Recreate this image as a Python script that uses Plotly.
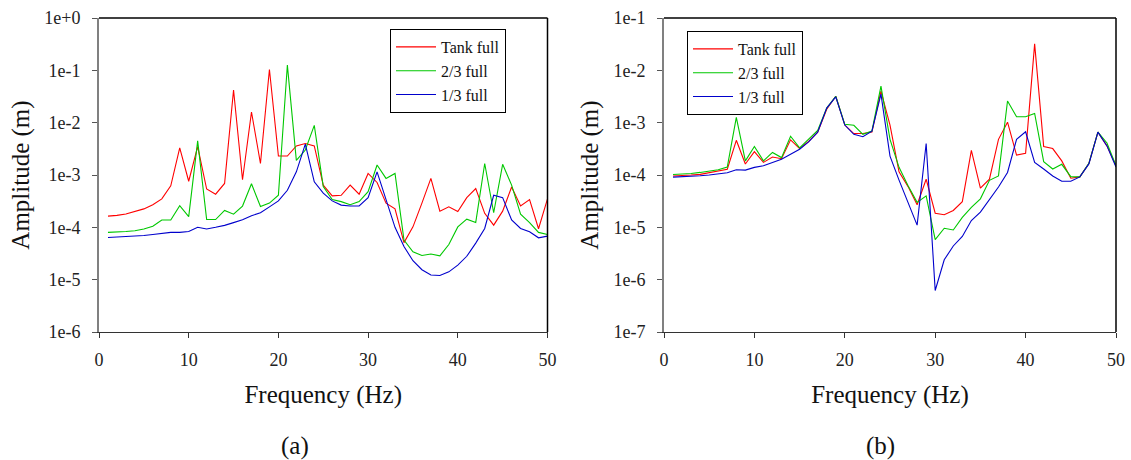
import plotly.graph_objects as go

freq = list(range(1, 51))

# Panel (a)
a_full = [1.64e-4, 1.69e-4, 1.8e-4, 2.0e-4, 2.25e-4, 2.7e-4, 3.5e-4, 6.2e-4, 3.3e-3, 7.6e-4,
          3.5e-3, 5.4e-4, 4.3e-4, 6.9e-4, 4.2e-2, 8.1e-4, 1.6e-2, 1.66e-3, 1.04e-1, 2.3e-3,
          2.3e-3, 3.6e-3, 4.0e-3, 3.6e-3, 6.4e-4, 4.0e-4, 4.1e-4, 6.4e-4, 4.3e-4, 1.07e-3,
          7.2e-4, 2.9e-4, 2.25e-4, 5.1e-5, 1.02e-4, 2.9e-4, 8.6e-4, 2.04e-4, 2.46e-4, 2.0e-4,
          3.7e-4, 5.5e-4, 1.85e-4, 1.1e-4, 2.04e-4, 5.9e-4, 2.56e-4, 3.4e-4, 9.4e-5, 3.5e-4]
a_two3 = [8.0e-5, 8.1e-5, 8.3e-5, 8.6e-5, 9.3e-5, 1.05e-4, 1.38e-4, 1.38e-4, 2.6e-4, 1.6e-4,
          4.5e-3, 1.41e-4, 1.41e-4, 2.1e-4, 1.78e-4, 2.55e-4, 6.8e-4, 2.5e-4, 2.9e-4, 4.1e-4,
          1.26e-1, 1.9e-3, 3.0e-3, 8.9e-3, 6.0e-4, 3.4e-4, 3.1e-4, 2.7e-4, 3.1e-4, 4.8e-4,
          1.55e-3, 8.6e-4, 1.07e-3, 5.7e-5, 3.4e-5, 2.9e-5, 3.1e-5, 2.85e-5, 4.7e-5, 1.02e-4,
          1.43e-4, 1.24e-4, 1.66e-3, 1.9e-4, 1.6e-3, 6.4e-4, 1.78e-4, 1.23e-4, 8.0e-5, 7.3e-5]
a_one3 = [6.4e-5, 6.5e-5, 6.6e-5, 6.8e-5, 7.0e-5, 7.3e-5, 7.7e-5, 8.0e-5, 8.0e-5, 8.3e-5,
          1.0e-4, 9.3e-5, 1.0e-4, 1.09e-4, 1.23e-4, 1.39e-4, 1.66e-4, 1.9e-4, 2.46e-4, 3.2e-4,
          5.1e-4, 1.15e-3, 3.9e-3, 7.4e-4, 4.5e-4, 3.2e-4, 2.66e-4, 2.56e-4, 2.56e-4, 3.7e-4,
          1.15e-3, 3.3e-4, 1.0e-4, 4.3e-5, 2.3e-5, 1.55e-5, 1.23e-5, 1.2e-5, 1.41e-5, 1.9e-5,
          2.8e-5, 5.0e-5, 9.5e-5, 4.1e-4, 3.7e-4, 1.38e-4, 9.5e-5, 8.2e-5, 6.3e-5, 6.8e-5]

# Panel (b)
b_full = [9.6e-5, 9.7e-5, 1.0e-4, 1.03e-4, 1.1e-4, 1.17e-4, 1.29e-4, 4.6e-4, 1.62e-4, 2.8e-4,
          1.74e-4, 2.2e-4, 2.05e-4, 4.7e-4, 3.2e-4, 4.4e-4, 6.6e-4, 1.8e-3, 3.2e-3, 9.0e-4,
          6.2e-4, 6.2e-4, 6.6e-4, 4.0e-3, 9.0e-4, 1.15e-4, 6.0e-5, 2.7e-5, 8.3e-5, 1.86e-5,
          1.74e-5, 2.1e-5, 3.1e-5, 2.95e-4, 5.6e-5, 8.3e-5, 4.8e-4, 1.02e-3, 2.4e-4, 2.6e-4,
          3.2e-2, 3.5e-4, 3.2e-4, 1.86e-4, 8.7e-5, 9.2e-5, 1.66e-4, 6.6e-4, 3.6e-4, 1.5e-4]
b_two3 = [1.02e-4, 1.03e-4, 1.07e-4, 1.12e-4, 1.18e-4, 1.26e-4, 1.42e-4, 1.26e-3, 1.86e-4, 3.5e-4,
          1.86e-4, 2.7e-4, 2.15e-4, 5.5e-4, 3.3e-4, 4.8e-4, 7.1e-4, 1.9e-3, 3.2e-3, 9.3e-4,
          8.9e-4, 6.0e-4, 6.9e-4, 5.0e-3, 4.8e-4, 1.4e-4, 6.2e-5, 3.0e-5, 4.0e-5, 5.8e-6,
          9.6e-6, 8.9e-6, 1.55e-5, 2.4e-5, 3.5e-5, 7.9e-5, 9.6e-5, 2.6e-3, 1.3e-3, 1.3e-3,
          1.5e-3, 1.8e-4, 1.3e-4, 1.6e-4, 9.3e-5, 9.2e-5, 1.67e-4, 6.6e-4, 4.1e-4, 1.5e-4]
b_one3 = [9.1e-5, 9.2e-5, 9.5e-5, 9.7e-5, 1.0e-4, 1.05e-4, 1.1e-4, 1.26e-4, 1.24e-4, 1.4e-4,
          1.5e-4, 1.74e-4, 2.0e-4, 2.5e-4, 3.1e-4, 4.3e-4, 6.6e-4, 1.9e-3, 3.1e-3, 9.0e-4,
          6.0e-4, 5.4e-4, 6.9e-4, 3.5e-3, 2.3e-4, 8.0e-5, 3.0e-5, 1.1e-5, 4.0e-4, 6.2e-7,
          2.4e-6, 4.4e-6, 6.7e-6, 1.35e-5, 1.95e-5, 3.4e-5, 5.9e-5, 1.12e-4, 4.8e-4, 6.7e-4,
          1.74e-4, 1.3e-4, 9.6e-5, 7.6e-5, 7.6e-5, 9.2e-5, 1.63e-4, 6.6e-4, 3.6e-4, 1.42e-4]

series_names = ["Tank full", "2/3 full", "1/3 full"]
series_colors = ["#FF0000", "#00C800", "#0000CC"]

x_ticks = [0, 10, 20, 30, 40, 50]
a_yticks = [1e0, 1e-1, 1e-2, 1e-3, 1e-4, 1e-5, 1e-6]
a_yticktext = ["1e+0", "1e-1", "1e-2", "1e-3", "1e-4", "1e-5", "1e-6"]
b_yticks = [1e-1, 1e-2, 1e-3, 1e-4, 1e-5, 1e-6, 1e-7]
b_yticktext = ["1e-1", "1e-2", "1e-3", "1e-4", "1e-5", "1e-6", "1e-7"]

FONT = "Liberation Serif, Times New Roman, serif"

fig = go.Figure()
for name, col, ys in zip(series_names, series_colors, [a_full, a_two3, a_one3]):
    fig.add_trace(go.Scatter(x=freq, y=ys, mode="lines", name=name,
                             line=dict(color=col, width=1.1), xaxis="x", yaxis="y",
                             legend="legend"))
for name, col, ys in zip(series_names, series_colors, [b_full, b_two3, b_one3]):
    fig.add_trace(go.Scatter(x=freq, y=ys, mode="lines", name=name,
                             line=dict(color=col, width=1.1), xaxis="x2", yaxis="y2",
                             legend="legend2"))

W, H = 1131, 460
ml, mr, mt, mb = 99, 15, 18, 128
pw = W - ml - mr
ph = H - mt - mb

def dom(px0, px1):
    return [(px0 - ml) / pw, (px1 - ml) / pw]

xcommon = dict(range=[0, 50], tickvals=x_ticks, ticks="outside", ticklen=5, tickcolor="#333",
               showline=True, linecolor="#333", linewidth=1, showgrid=False, zeroline=False,
               automargin=False, ticklabelstandoff=6,
               tickfont=dict(family=FONT, size=18, color="#222"),
               title=dict(text="Frequency (Hz)", font=dict(family=FONT, size=25, color="#111"),
                          standoff=16))
ycommon = dict(type="log", ticks="outside", ticklen=5, tickcolor="#555",
               showline=True, linecolor="#808080", linewidth=2, showgrid=False, zeroline=False,
               automargin=False,
               tickfont=dict(family=FONT, size=18, color="#222"), ticklabelstandoff=8,
               title=dict(text="Amplitude (m)", font=dict(family=FONT, size=25, color="#111"),
                          standoff=8))

legend_common = dict(xanchor="left", yanchor="top", bgcolor="white", bordercolor="black",
                     borderwidth=1, itemwidth=40, tracegroupgap=0,
                     font=dict(family=FONT, size=16, color="#111"))

fig.update_layout(
    width=W, height=H,
    margin=dict(l=ml, r=mr, t=mt, b=mb, autoexpand=False),
    paper_bgcolor="white", plot_bgcolor="white",
    font=dict(family=FONT, color="#111"),
    xaxis=dict(domain=dom(99, 547.5), anchor="y", **xcommon),
    yaxis=dict(domain=[0, 1], anchor="x", range=[-6, 0], tickvals=a_yticks,
               ticktext=a_yticktext, **ycommon),
    xaxis2=dict(domain=dom(664, 1116), anchor="y2", **xcommon),
    yaxis2=dict(domain=[0, 1], anchor="x2", range=[-7, -1], tickvals=b_yticks,
                ticktext=b_yticktext, **ycommon),
    legend=dict(x=(390 - ml) / pw, y=(mt + ph - 29) / ph, **legend_common),
    legend2=dict(x=(687 - ml) / pw, y=(mt + ph - 31) / ph, **legend_common),
    showlegend=True,
)

# frame (top and right border lines) drawn in axis-domain coordinates
for xr, yr in [("x domain", "y domain"), ("x2 domain", "y2 domain")]:
    fig.add_shape(type="line", xref=xr, yref=yr, x0=0, x1=1, y0=1, y1=1,
                  line=dict(color="black", width=1.5))
    fig.add_shape(type="line", xref=xr, yref=yr, x0=1, x1=1, y0=0, y1=1,
                  line=dict(color="black", width=1.5))

for txt, xr, xpos in [("(a)", "x domain", 0.437), ("(b)", "x2 domain", 0.478)]:
    fig.add_annotation(text=txt, xref=xr, yref="paper", x=xpos,
                       y=-(446 - mt - ph) / ph, yanchor="middle", xanchor="center",
                       showarrow=False, font=dict(family=FONT, size=25, color="#111"))

fig.write_html("out.html", config={"displayModeBar": False},
               post_script="document.body.style.margin='0';document.body.style.overflow='hidden';")
